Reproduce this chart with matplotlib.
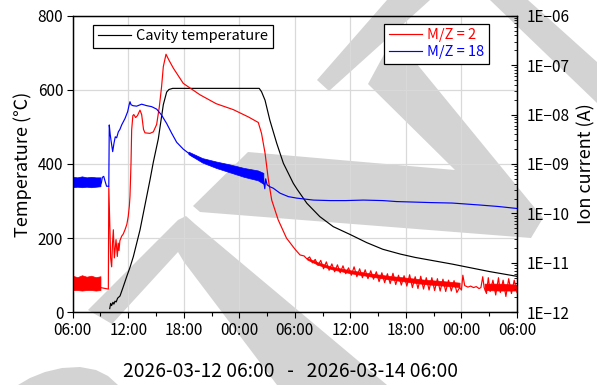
import matplotlib
matplotlib.use("Agg")
import matplotlib.pyplot as plt
from matplotlib.patches import Polygon

plt.rcParams['font.family'] = ['Noto Sans CJK JP', 'DejaVu Sans']

# ---- x axis: hours since 2026-03-12 06:00 ----
tick_hours = [0, 6, 12, 18, 24, 30, 36, 42, 48]
tick_labels = ["06:00", "12:00", "18:00", "00:00", "06:00", "12:00", "18:00", "00:00", "06:00"]
minor_hours = [3, 9, 15, 21, 27, 33, 39, 45]

# ---- Cavity temperature (deg C) ----
cavity_t = [4.0, 4.1, 4.2, 4.35, 4.45, 4.57, 4.7, 4.85, 5.11, 5.45, 5.83, 6.2, 6.55, 6.9, 7.27,
            7.63, 7.99, 8.35, 8.71, 9.25, 9.79, 10.15, 10.4, 10.8, 20.15, 20.4, 20.78, 21.3,
            22.04, 22.76, 23.83, 24.24, 25.3, 26.7, 28.15, 29.96, 31.76, 33.5, 35.4, 37.0,
            39.0, 41.0, 42.6, 45.0, 48.0]
cavity_T = [10, 24, 18, 27, 22, 30, 28, 38, 44, 68, 96, 122, 150, 185, 222,
            267, 312, 357, 405, 468, 560, 594, 601, 604, 604, 595, 572, 518,
            456, 402, 348, 332, 294, 258, 231, 210, 188, 170, 157, 148,
            139, 130, 122, 110, 97]

# ---- M/Z = 2 (log10 of ion current, A) ----
mz2_band_t = [0.0, 0.5, 1.0, 1.5, 2.0, 2.5, 3.0]
mz2_band_hi = [-11.26, -11.29, -11.25, -11.28, -11.26, -11.29, -11.27]
mz2_band_lo = [-11.55, -11.55, -11.56, -11.55, -11.55, -11.56, -11.55]
mz2_tail_t = [25.3, 26.5, 28.0, 30.0, 32.0, 34.0, 36.0, 38.0, 40.0, 41.8]
mz2_tail_hi = [-10.9, -10.99, -11.08, -11.15, -11.21, -11.26, -11.3, -11.34, -11.37, -11.4]
mz2_tail_lo = [-10.93, -11.04, -11.13, -11.21, -11.27, -11.33, -11.38, -11.43, -11.46, -11.49]
mz2_tail2_t = [44.5, 46.0, 48.0]
mz2_tail2_hi = [-11.42, -11.42, -11.44]
mz2_tail2_lo = [-11.55, -11.56, -11.56]
mz2_t = [3.0, 3.85, 3.9, 4.0, 4.1, 4.21, 4.3, 4.39, 4.5, 4.6, 4.68, 4.82, 4.92, 5.0, 5.1,
         5.29, 5.45, 5.65, 5.85, 6.0, 6.12, 6.19, 6.3, 6.37, 6.5, 6.6, 6.8, 7.0, 7.27,
         7.45, 7.65, 7.81, 8.35, 8.71, 9.07, 9.36, 9.6, 9.79, 10.08, 10.4, 10.87, 11.95,
         13.75, 15.5, 17.35, 19.0, 20.05, 20.4, 20.78, 21.14, 21.5, 22.2, 23.1, 24.0, 24.56,
         25.0, 25.3, 25.6, 25.9, 26.2, 26.5, 26.8, 27.1, 27.4, 27.7, 28.0, 28.3, 28.6, 28.9,
         29.2, 29.5, 29.8, 30.1, 30.4, 30.7, 31.0, 31.3, 31.6, 31.9, 32.2, 32.5, 32.8, 33.1,
         33.4, 33.7, 34.0, 34.3, 34.6, 34.9, 35.2, 35.5, 35.8, 36.1, 36.4, 36.7, 37.0, 37.3,
         37.6, 37.9, 38.2, 38.5, 38.8, 39.1, 39.4, 39.7, 40.0, 40.3, 40.6, 40.9, 41.2, 41.5,
         41.8, 42.0, 42.15, 42.35, 42.7, 43.0, 43.3, 43.6, 43.9, 44.1, 44.3, 44.45, 44.7,
         44.9, 45.1, 45.4, 45.7, 46.0, 46.2, 46.5, 46.8, 47.1, 47.4, 47.7, 48.0]
mz2_log = [-11.5, -11.53, -9.45, -10.2, -10.9, -11.08, -10.6, -10.33, -10.9, -10.7, -10.53,
           -10.87, -10.6, -10.75, -10.55, -10.46, -10.42, -10.33, -10.22, -10.06, -9.85, -9.65,
           -8.98, -8.31, -8.02, -8.0, -8.06, -8.02, -7.91, -8.0, -8.3, -8.37, -8.38, -8.35,
           -8.2, -7.84, -7.44, -7.03, -6.78, -6.9, -7.06, -7.37, -7.6, -7.78, -7.9, -8.05,
           -8.16, -8.38, -8.78, -9.32, -9.73, -10.13, -10.5, -10.72, -10.84,
           -10.86, -10.92, -10.88, -11.0, -10.93, -11.05, -10.95, -11.12, -10.98, -11.15,
           -11.02, -11.18, -11.04, -11.2, -11.06, -11.22, -11.1, -11.25, -11.08, -11.28,
           -11.12, -11.3, -11.14, -11.32, -11.16, -11.33, -11.18, -11.38, -11.2, -11.4,
           -11.22, -11.42, -11.21, -11.44, -11.25, -11.45, -11.26, -11.47, -11.24, -11.5,
           -11.28, -11.52, -11.27, -11.53, -11.3, -11.55, -11.3, -11.56, -11.32, -11.57,
           -11.33, -11.58, -11.35, -11.57, -11.36, -11.6, -11.5, -11.55, -11.25, -11.46,
           -11.49, -11.47, -11.5, -11.48, -11.52, -11.5, -11.28, -11.5, -11.62, -11.3,
           -11.58, -11.35, -11.65, -11.3, -11.6, -11.35, -11.68, -11.32, -11.62, -11.35, -11.6]

# ---- M/Z = 18 (log10 of ion current, A) ----
mz18_band_t = [0.0, 0.5, 1.0, 1.5, 2.0, 2.5, 3.0]
mz18_band_hi = [-9.26, -9.27, -9.25, -9.27, -9.26, -9.27, -9.27]
mz18_band_lo = [-9.47, -9.46, -9.47, -9.46, -9.47, -9.46, -9.45]
mz18_nband_t = [12.5, 14.0, 15.5, 17.0, 18.5, 20.0, 20.6]
mz18_nband_hi = [-8.75, -8.88, -8.95, -9.01, -9.08, -9.13, -9.18]
mz18_nband_lo = [-8.80, -8.97, -9.08, -9.17, -9.26, -9.33, -9.40]
mz18_t = [3.0, 3.1, 3.2, 3.35, 3.5, 3.66, 3.9, 3.95, 4.05, 4.13, 4.32, 4.46, 4.6, 4.75, 4.93,
          5.1, 5.29, 5.65, 5.94, 6.1, 6.19, 6.3, 6.5, 6.91, 7.45, 7.99, 8.53, 9.07, 9.6,
          10.15, 10.7, 11.23, 11.95, 13.0, 14.48, 16.0, 17.35, 19.0, 20.3, 20.6, 20.75,
          20.85, 21.0, 21.3, 21.67, 22.4, 23.3, 24.2, 26.0, 27.8, 29.5, 31.4, 33.5, 35.0,
          38.6, 41.0, 44.0, 46.0, 48.0]
mz18_log = [-9.42, -9.38, -9.27, -9.25, -9.35, -9.45, -9.45, -8.21, -8.4, -8.51, -8.75,
            -8.58, -8.45, -8.47, -8.35, -8.3, -8.21, -8.08, -7.94, -7.8, -7.74, -7.8, -7.82,
            -7.83, -7.79, -7.82, -7.84, -7.89, -8.01, -8.18, -8.38, -8.56, -8.7, -8.85,
            -8.95, -9.03, -9.1, -9.18, -9.25, -9.3, -9.5, -9.3, -9.42, -9.46, -9.49, -9.59,
            -9.66, -9.69, -9.73, -9.74, -9.74, -9.73, -9.74, -9.76, -9.78, -9.79, -9.83,
            -9.86, -9.9]

# ---- figure ----
W, H = 597, 385
fig = plt.figure(figsize=(W / 100, H / 100), dpi=100)
fig.patch.set_facecolor("white")

# watermark shapes (pixel coords, y measured from top)
watermark = [
    [(387, 0), (430, 0), (329, 91), (317, 80)],
    [(394, 36), (543, 218), (531, 238), (200, 212), (193, 206), (248, 152), (455, 170), (368, 84)],
    [(88, 310), (178, 220), (186, 216), (195, 224), (387, 385), (277, 385), (184, 262), (178, 252), (112, 324)],
    [(18, 385), (30, 378), (45, 372), (62, 368), (80, 367), (96, 370), (108, 376), (118, 385)],
    [(490, 0), (528, 0), (597, 62), (597, 103)],
]
for poly in watermark:
    pts = [(x / W, 1 - y / H) for x, y in poly]
    fig.add_artist(Polygon(pts, closed=True, transform=fig.transFigure,
                           facecolor="#d3d3d3", edgecolor="none", zorder=-5))

ax_l, ax_r, ax_t, ax_b = 72.7, 517.0, 15.7, 312.3
ax1 = fig.add_axes([ax_l / W, 1 - ax_b / H, (ax_r - ax_l) / W, (ax_b - ax_t) / H])
ax1.set_facecolor("none")
ax2 = ax1.twinx()
ax2.set_facecolor("none")

LW = 0.85
ax1.plot(cavity_t, cavity_T, color="black", lw=LW, label="Cavity temperature")


def p10(vals):
    return [10 ** v for v in vals]


ax2.fill_between(mz2_band_t, p10(mz2_band_lo), p10(mz2_band_hi), color="red", lw=0.5)
ax2.fill_between(mz2_tail_t, p10(mz2_tail_lo), p10(mz2_tail_hi), color="red", lw=0.5)
ax2.fill_between(mz2_tail2_t, p10(mz2_tail2_lo), p10(mz2_tail2_hi), color="red", lw=0.5)
ax2.fill_between(mz18_band_t, p10(mz18_band_lo), p10(mz18_band_hi), color="blue", lw=0.5)
ax2.fill_between(mz18_nband_t, p10(mz18_nband_lo), p10(mz18_nband_hi), color="blue", lw=0.5)
ax2.plot(mz2_t, p10(mz2_log), color="red", lw=LW, label="M/Z = 2")
ax2.plot(mz18_t, p10(mz18_log), color="blue", lw=LW, label="M/Z = 18")

# axes limits / scales
ax1.set_xlim(0, 48)
ax1.set_ylim(0, 800)
ax2.set_yscale("log")
ax2.set_ylim(1e-12, 1e-6)

ax1.set_xticks(tick_hours)
ax1.set_xticklabels(tick_labels)
ax1.set_xticks(minor_hours, minor=True)
ax1.set_yticks([0, 200, 400, 600, 800])
ax1.grid(True, which="major", color="#d9d9d9", lw=0.9)
ax1.set_axisbelow(True)

dec = [1e-12, 1e-11, 1e-10, 1e-9, 1e-8, 1e-7, 1e-6]
ax2.set_yticks(dec)
ax2.set_yticklabels(["1E\u221212", "1E\u221211", "1E\u221210", "1E\u221209",
                     "1E\u221208", "1E\u221207", "1E\u221206"])
minor = [m * d for d in dec[:-1] for m in range(2, 10)]
ax2.set_yticks(minor, minor=True)
ax2.yaxis.set_minor_formatter(plt.NullFormatter())

fs = 11
ax1.tick_params(axis="both", which="major", labelsize=fs, direction="out", length=4.3,
                width=0.8, pad=2.5, colors="black")
ax1.tick_params(axis="x", which="minor", direction="out", length=2.8, width=0.8)
ax2.tick_params(axis="y", which="major", labelsize=fs, direction="in", length=4.0,
                width=0.8, pad=7)
ax2.tick_params(axis="y", which="minor", direction="in", length=2.3, width=0.6)

for ax in (ax1, ax2):
    for sp in ax.spines.values():
        sp.set_linewidth(0.9)
        sp.set_color("black")

ax1.set_ylabel("Temperature (\u2103)", fontsize=13)
ax1.yaxis.label.set_va("center")
ax1.yaxis.set_label_coords((23 - ax_l) / (ax_r - ax_l), 0.5)
ax2.set_ylabel("Ion current (A)", fontsize=13, rotation=90)
ax2.yaxis.label.set_va("center")
ax2.yaxis.set_label_coords((586 - ax_l) / (ax_r - ax_l), 0.5)
ax1.set_xlabel("2026-03-12 06:00   -   2026-03-14 06:00", fontsize=13.8)
ax1.xaxis.label.set_va("center")
ax1.xaxis.set_label_coords((290.5 - ax_l) / (ax_r - ax_l), (ax_b - 371.7) / (ax_b - ax_t))

leg1 = ax1.legend(loc="upper left",
                  bbox_to_anchor=((93.3 - ax_l) / (ax_r - ax_l), (ax_b - 25) / (ax_b - ax_t)),
                  borderaxespad=0, fontsize=10.5, handlelength=2.3, handletextpad=0.35,
                  borderpad=0.3, fancybox=False, framealpha=1, edgecolor="black")
leg1.get_frame().set_linewidth(0.9)
leg2 = ax2.legend(loc="upper right",
                  bbox_to_anchor=((488.7 - ax_l) / (ax_r - ax_l), (ax_b - 24) / (ax_b - ax_t)),
                  borderaxespad=0, fontsize=10.5, handlelength=2.3, handletextpad=0.35,
                  borderpad=0.3, labelspacing=0.2, fancybox=False, framealpha=1,
                  edgecolor="black", labelcolor="linecolor")
leg2.get_frame().set_linewidth(0.9)

fig.savefig("out.png", dpi=100, facecolor="white")
